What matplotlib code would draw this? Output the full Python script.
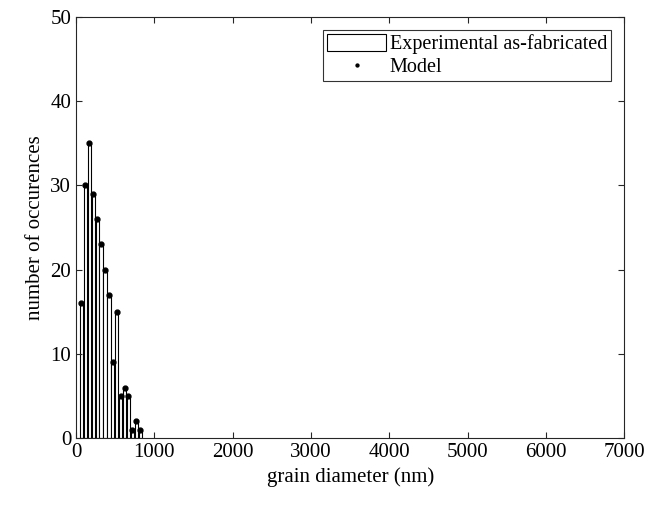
import matplotlib.pyplot as plt

# histogram bin centres (nm) and counts
bin_centres = [70, 120, 170, 220, 270, 320, 370, 420, 470, 520, 570, 620, 670, 720, 770, 820]
exp_counts = [16, 30, 35, 29, 26, 23, 20, 17, 9, 15, 5, 6, 5, 1, 2, 1]
model_counts = [16, 30, 35, 29, 26, 23, 20, 17, 9, 15, 5, 6, 5, 1, 2, 1]

plt.rcParams['font.family'] = ['Liberation Serif', 'DejaVu Serif']

fig = plt.figure(figsize=(6.69, 5.11), dpi=100)
ax = fig.add_axes([0.1136, 0.1423, 0.8196, 0.8250])

bars = ax.bar(bin_centres, exp_counts, width=42, color='white', edgecolor='black',
              linewidth=0.8, label='Experimental as-fabricated')
dots, = ax.plot(bin_centres, model_counts, 'k.', markersize=7, label='Model')

ax.set_xlim(0, 7000)
ax.set_ylim(0, 50)
ax.set_xticks(range(0, 7001, 1000))
ax.set_yticks(range(0, 51, 10))
ax.tick_params(direction='in', top=True, right=True, labelsize=15, length=4,
               color='#262626')
for s in ax.spines.values():
    s.set_color('#262626')
    s.set_linewidth(0.8)

ax.set_xlabel('grain diameter (nm)', fontsize=15)
ax.set_ylabel('number of occurences', fontsize=15)

leg = ax.legend([bars, dots], ['Experimental as-fabricated', 'Model'],
                loc='upper right', fontsize=14.5, frameon=True, fancybox=False,
                edgecolor='black', handlelength=2.9, handleheight=0.9,
                borderaxespad=0.65, handletextpad=0.2, borderpad=0.2,
                labelspacing=0.15, numpoints=1, markerscale=0.6)
leg.get_frame().set_linewidth(0.8)

fig.savefig('out.png', dpi=100)
